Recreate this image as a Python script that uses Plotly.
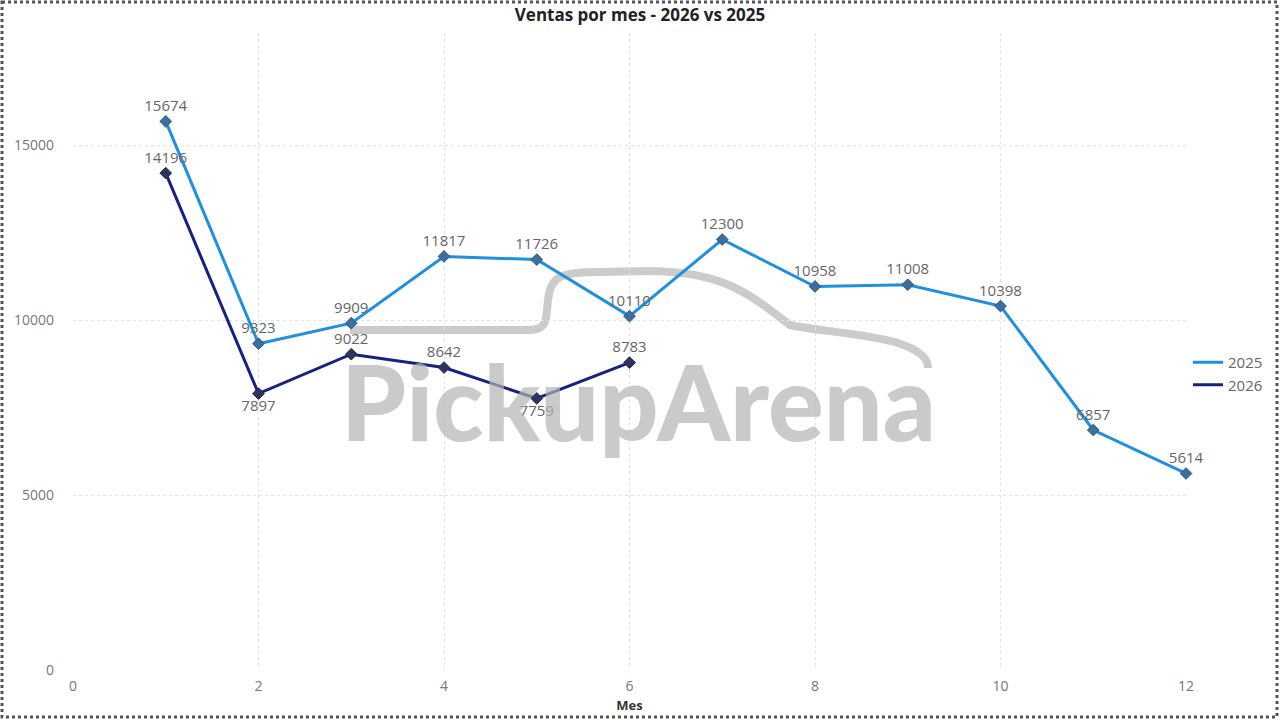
import plotly.graph_objects as go

meses_2025 = [1, 2, 3, 4, 5, 6, 7, 8, 9, 10, 11, 12]
ventas_2025 = [15674, 9323, 9909, 11817, 11726, 10110, 12300, 10958, 11008, 10398, 6857, 5614]
pos_2025 = ["top center"] * 12

meses_2026 = [1, 2, 3, 4, 5, 6]
ventas_2026 = [14196, 7897, 9022, 8642, 7759, 8783]
pos_2026 = ["top center", "bottom center", "top center", "top center", "bottom center", "top center"]

y_ticks = [0, 5000, 10000, 15000]
x_ticks = [0, 2, 4, 6, 8, 10, 12]

W, H = 1280, 720
L, R, T, B = 73, 94, 33, 50
pw, ph = W - L - R, H - T - B

def px(x):
    return (x - L) / pw

def py(y):
    return (H - B - y) / ph

font_fam = "Open Sans, DejaVu Sans, sans-serif"
c25, c26 = "#1E8FE1", "#172180"

fig = go.Figure()
fig.add_trace(go.Scatter(
    x=meses_2025, y=ventas_2025, name="2025", mode="lines+markers+text", showlegend=False,
    line=dict(color=c25, width=3),
    marker=dict(symbol="diamond", size=9, color="#3D6E9C", line=dict(color="#2A5A88", width=1)),
    text=[str(v) for v in ventas_2025], textposition=pos_2025,
    textfont=dict(color="#666666", size=15, family=font_fam),
))
fig.add_trace(go.Scatter(
    x=meses_2026, y=ventas_2026, name="2026", mode="lines+markers+text", showlegend=False,
    line=dict(color=c26, width=3),
    marker=dict(symbol="diamond", size=9, color="#2E3460", line=dict(color="#252a55", width=1)),
    text=[str(v) for v in ventas_2026], textposition=pos_2026,
    textfont=dict(color="#666666", size=15, family=font_fam),
))
# legend entries (line only, like the reference)
fig.add_trace(go.Scatter(x=[None], y=[None], name="2025", mode="lines", line=dict(color=c25, width=3)))
fig.add_trace(go.Scatter(x=[None], y=[None], name="2026", mode="lines", line=dict(color=c26, width=3)))

# watermark car outline
car = (f"M {px(350)},{py(330)} L {px(530)},{py(330)} "
       f"C {px(548)},{py(330)} {px(546)},{py(318)} {px(548)},{py(300)} "
       f"C {px(551)},{py(276)} {px(560)},{py(272)} {px(600)},{py(272)} "
       f"L {px(650)},{py(271)} "
       f"C {px(720)},{py(272)} {px(745)},{py(290)} {px(790)},{py(325)} "
       f"C {px(810)},{py(330)} {px(860)},{py(333)} {px(895)},{py(342)} "
       f"C {px(920)},{py(350)} {px(928)},{py(358)} {px(928)},{py(368)}")
shapes = [
    dict(type="path", path=car, xref="paper", yref="paper",
         line=dict(color="rgba(185,185,185,0.75)", width=8), layer="below"),
    dict(type="rect", xref="paper", yref="paper",
         x0=px(2), x1=px(1277), y0=py(2), y1=py(717),
         line=dict(color="#555555", width=3, dash="dot")),
]

annotations = [
    dict(text="PickupArena", x=px(638), y=py(400), xref="paper", yref="paper",
         showarrow=False,
         font=dict(size=104, color="rgba(180,180,180,0.7)", family="Lato, Open Sans, sans-serif", weight=900),
         xanchor="center", yanchor="middle"),
]

fig.update_layout(
    width=W, height=H,
    margin=dict(l=L, r=R, t=T, b=B, autoexpand=False),
    paper_bgcolor="white", plot_bgcolor="white",
    title=dict(text="<b>Ventas por mes - 2026 vs 2025</b>", x=0.5, xanchor="center",
               y=1 - 15 / H, yanchor="middle", font=dict(size=17, color="#222222", family=font_fam)),
    xaxis=dict(range=[0, 12], tickvals=x_ticks, showgrid=True, gridcolor="#e2e2e2", griddash="dot",
               zeroline=False, showline=False, automargin=False,
               tickfont=dict(size=14, color="#777777", family=font_fam),
               title=dict(text="<b>Mes</b>", font=dict(size=13, color="#333333", family=font_fam), standoff=6),
               ticklabelstandoff=6),
    yaxis=dict(range=[0, 18200], tickvals=y_ticks, ticktext=[str(v) for v in y_ticks],
               showgrid=True, gridcolor="#e2e2e2", griddash="dot", automargin=False,
               zeroline=False, showline=False, tickfont=dict(size=14, color="#777777", family=font_fam),
               ticklabelstandoff=18),
    legend=dict(x=px(1188), y=py(346), xanchor="left", yanchor="top",
                font=dict(size=15, color="#666666", family=font_fam), bgcolor="rgba(0,0,0,0)",
                itemwidth=30),
    shapes=shapes, annotations=annotations,
    showlegend=True,
)
for tr in fig.data:
    tr.cliponaxis = False

fig.write_html("out.html")
